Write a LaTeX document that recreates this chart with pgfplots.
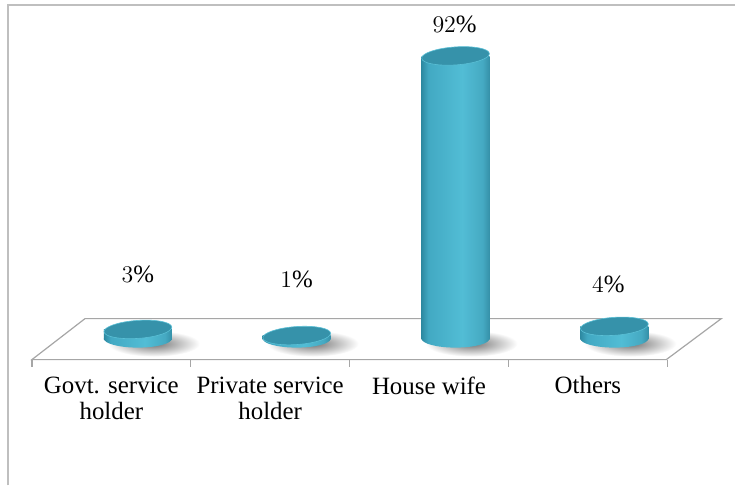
\documentclass[border=0pt]{standalone}
\usepackage{fontspec}
\setmainfont{Liberation Serif}
\usepackage{pgfplots}
\pgfplotsset{compat=1.18}
\usetikzlibrary{shapes.geometric}
\definecolor{bartop}{HTML}{3692AA}
\definecolor{barrim}{HTML}{5BC0D6}
\definecolor{floorline}{HTML}{A6A6A6}
\definecolor{framecol}{HTML}{BFBFBF}
\pgfdeclarehorizontalshading{cylbody}{100bp}{
  color(0bp)=(rgb,255:red,46;green,138;blue,162);
  color(25bp)=(rgb,255:red,46;green,138;blue,162);
  color(30bp)=(rgb,255:red,66;green,169;blue,195);
  color(55bp)=(rgb,255:red,82;green,189;blue,213);
  color(70bp)=(rgb,255:red,69;green,169;blue,194);
  color(75bp)=(rgb,255:red,53;green,144;blue,168);
  color(100bp)=(rgb,255:red,53;green,144;blue,168)}

\begin{document}
\begin{tikzpicture}
\begin{axis}[
  x=79.5bp, y=1.538bp,
  xmin=-0.868, xmax=3.761, ymin=-9.10, ymax=110.2,
  axis y line=none, axis x line*=bottom,
  x axis line style={draw=none},
  xtick={-0.667,0.333,1.333,2.333,3.333},
  x tick label as interval,
  xticklabels={{Govt. service\\holder},{Private service\\holder},{House wife},{Others}},
  xtick align=inside, major tick length=3.5bp,
  xtick style={floorline, line width=0.6bp},
  xticklabel style={align=center, font=\fontsize{12.5}{13.5}\selectfont, text=black, yshift=-1.5bp},
  clip=false,
]
% frame and page size
\path (axis cs:-0.868,-47.79) rectangle (axis cs:3.761,110.2);
\draw[framecol, line width=0.75bp] (axis cs:-0.818,-47.79) -- (axis cs:-0.818,108.58) -- (axis cs:3.761,108.58);
% floor
\draw[floorline, line width=0.6bp, fill=white] (axis cs:-0.667,-6.83) -- (axis cs:3.327,-6.83)
  -- (axis cs:3.673,6.50) -- (axis cs:-0.333,6.50) -- cycle;

% shadows
\addplot[draw=none, mark=none, nodes near coords={},
  every node near coord/.append style={ellipse, anchor=center, inner sep=0pt,
    minimum width=46bp, minimum height=13bp, shading=radial,
    inner color=black!55, outer color=white, xshift=8bp, yshift=-2.5bp}]
  coordinates {(0,0) (1,0) (2,0) (3,0)};

% bottom caps
\addplot[draw=none, mark=none, nodes near coords={},
  every node near coord/.append style={ellipse, anchor=center, inner sep=0pt,
    minimum width=34bp, minimum height=9bp, shade, shading=cylbody}]
  coordinates {(0,0) (1,0) (2,0) (3,0)};

% bodies: height taken from the value through the y unit
\addplot[draw=none, mark=none, visualization depends on={rawy*1.538 \as \barh},
  nodes near coords={},
  every node near coord/.append style={rectangle, anchor=north, inner sep=0pt,
    minimum width=34bp, minimum height=\barh bp, shade, shading=cylbody}]
  coordinates {(0,3) (1,1) (2,92) (3,4)};

% top caps
\addplot[draw=none, mark=none, nodes near coords={},
  every node near coord/.append style={ellipse, anchor=center, inner sep=0pt,
    minimum width=34bp, minimum height=9bp, rotate=4,
    fill=bartop, draw=barrim, line width=0.3bp}]
  coordinates {(0,3) (1,1) (2,92) (3,4)};

% value labels
\addplot[draw=none, mark=none, point meta=explicit,
  nodes near coords={\pgfmathprintnumber{\pgfplotspointmeta}\%},
  every node near coord/.append style={anchor=center, text=black,
    font=\fontsize{12.5}{13.5}\selectfont}]
  coordinates {(0,20.8) [3] (1,19.2) [1] (1.994,102.1) [92] (2.962,17.6) [4]};
\end{axis}
\end{tikzpicture}
\end{document}
